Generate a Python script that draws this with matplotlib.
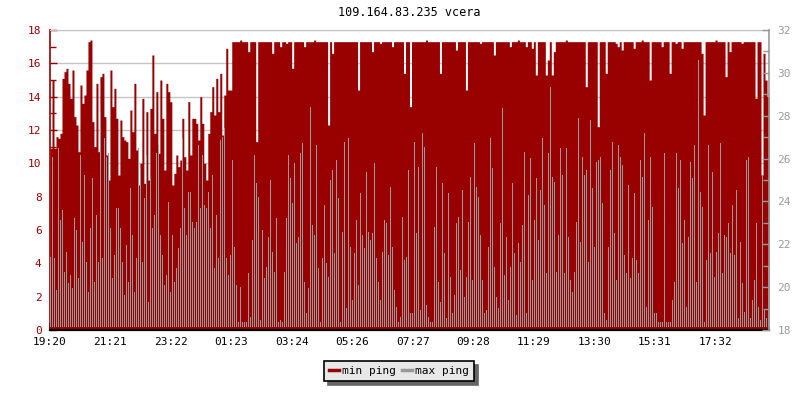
import numpy as np
import matplotlib
matplotlib.use("Agg")
import matplotlib.pyplot as plt
from matplotlib.ticker import MultipleLocator, FixedLocator
from matplotlib.lines import Line2D

title = "109.164.83.235 vcera"
series_names = ["min ping", "max ping"]
sample_minutes = 4          # one value every 4 minutes, 24 h in total
tick_every_minutes = 121.1
tick_labels = ["19:20", "21:21", "23:22", "01:23", "03:24", "05:26",
               "07:27", "09:28", "11:29", "13:30", "15:31", "17:32"]

min_ping = [
    10.9, 15.0, 10.9, 11.6, 11.5, 11.8, 15.1, 15.5, 15.7, 14.8,
    13.9, 15.6, 12.8, 12.3, 10.7, 14.7, 13.6, 14.1, 15.6, 17.3,
    17.4, 12.5, 11.0, 14.8, 10.7, 15.2, 15.4, 12.8, 10.5, 9.0,
    15.6, 13.4, 14.5, 12.7, 9.3, 12.6, 11.6, 11.4, 11.3, 10.3,
    13.2, 11.9, 14.8, 10.8, 8.7, 10.0, 13.9, 8.8, 13.1, 9.0,
    13.3, 16.5, 11.8, 14.3, 10.6, 15.0, 12.7, 9.6, 14.8, 14.3,
    13.7, 8.7, 9.4, 10.5, 9.8, 10.2, 12.7, 10.4, 9.6, 13.7,
    10.5, 12.7, 12.7, 12.4, 11.4, 14.0, 12.4, 10.0, 9.0, 11.8,
    13.1, 14.6, 12.9, 15.1, 13.1, 15.4, 11.7, 14.1, 16.9, 14.4,
    14.4,
    17.3, 17.3, 17.3, 17.3, 17.4, 17.3, 17.3, 17.3, 16.7,
    17.3, 17.3, 17.3, 11.3, 17.3, 17.3, 17.3, 17.3, 17.3, 17.3,
    17.3, 16.6, 17.3, 17.3, 17.3, 17.0, 17.3, 17.3, 17.2, 17.3,
    17.3, 15.7, 17.3, 17.3, 17.3, 17.3, 17.3, 17.0, 17.3, 17.3,
    17.3, 17.3, 17.4, 17.3, 17.3, 17.3, 17.3, 17.3, 17.3, 12.3,
    17.3, 16.6, 17.3, 17.3, 17.3, 17.3, 17.3, 17.3, 17.3, 17.3,
    17.3, 17.3, 17.3, 17.3, 14.4, 17.3, 17.3, 17.3, 17.3, 17.3,
    17.3, 16.7, 17.3, 17.3, 17.3, 17.2, 17.3, 17.3, 17.3, 17.3,
    17.3, 17.0, 17.3, 17.3, 17.3, 17.3, 17.3, 15.4, 17.3, 17.3,
    13.4, 17.3, 17.3, 17.3, 17.3, 17.3, 17.3, 17.3, 17.4, 17.3,
    17.3, 17.3, 17.3, 17.3, 17.3, 15.4, 17.3, 17.3, 17.3, 17.3,
    17.3, 17.3, 17.3, 16.8, 17.3, 17.3, 17.3, 17.3, 14.4, 17.3,
    17.3, 17.3, 17.3, 17.3, 17.3, 17.2, 17.3, 17.3, 17.3, 17.3,
    17.3, 17.3, 16.5, 17.3, 17.3, 17.3, 17.3, 17.3, 17.3, 17.3,
    17.0, 17.3, 17.3, 17.3, 17.4, 17.3, 17.3, 17.3, 17.0, 17.3,
    17.3, 16.9, 17.3, 15.3, 17.3, 17.3, 17.3, 17.3, 15.3, 16.2,
    17.3, 15.3, 16.7, 17.3, 17.3, 17.3, 17.3, 17.3, 17.4, 17.3,
    17.3, 17.3, 17.3, 17.3, 17.3, 17.3, 17.3, 17.3, 14.6, 17.3,
    17.3, 17.3, 17.3, 17.3, 12.2, 17.3, 17.3, 17.3, 15.4, 17.3,
    17.3, 17.3, 17.3, 17.2, 17.0, 17.3, 16.8, 17.3, 17.3, 17.3,
    17.3, 17.3, 16.9, 17.3, 17.3, 17.3, 17.4, 17.3, 17.3, 17.3,
    15.0, 17.3, 17.3, 17.3, 17.3, 17.3, 17.0, 17.3, 17.3, 17.3,
    15.4, 17.3, 17.3, 17.2, 17.3, 17.3, 16.9, 17.3, 17.3, 17.3,
    17.3, 17.3, 17.3, 17.3, 17.3, 17.3, 16.6, 12.9, 17.3, 17.3,
    17.3, 17.3, 17.3, 17.4, 17.3, 17.3, 17.3, 17.3, 15.2, 17.3,
    16.7, 17.3, 17.3, 17.3, 17.3, 17.3, 17.2, 17.3, 17.3, 17.3,
    17.3, 17.3, 17.3, 13.9, 17.3, 17.3, 9.3, 16.6, 15.0, 14.0,
]

max_ping = [
    4.4, 10.4, 4.3, 2.4, 10.9, 6.6, 7.2, 3.5, 4.7, 2.8,
    3.3, 2.5, 6.7, 6.0, 3.1, 10.5, 5.3, 9.3, 4.1, 2.3,
    6.1, 9.1, 2.9, 6.9, 4.1, 13.1, 4.3, 11.5, 10.4, 10.6,
    6.1, 3.1, 4.5, 7.3, 7.3, 6.1, 4.1, 2.1, 5.1, 2.9,
    8.5, 5.7, 2.3, 4.3, 10.9, 9.7, 4.1, 7.9, 10.5, 1.7,
    9.1, 6.1, 6.9, 10.6, 11.1, 5.7, 4.5, 2.7, 3.3, 7.7,
    2.3, 5.7, 2.9, 3.7, 4.9, 6.1, 11.5, 7.3, 5.7, 8.3,
    8.3, 6.5, 6.1, 6.5, 11.1, 7.3, 10.5, 7.5, 7.3, 8.3,
    6.1, 9.3, 3.7, 6.9, 4.3, 11.4, 11.6, 12.1, 4.3, 3.3,
    4.5,
    10.2, 5.0, 2.7, 0.5, 2.6, 0.5, 0.5, 0.5, 3.4,
    0.8, 5.4, 10.5, 8.8, 8.0, 0.6, 6.0, 3.1, 3.8, 5.6,
    9.0, 4.7, 3.5, 6.7, 0.5, 0.6, 0.5, 3.5, 6.7, 10.5,
    9.1, 7.6, 10.0, 5.2, 5.6, 10.6, 11.2, 2.9, 1.0, 2.5,
    13.4, 6.3, 5.7, 11.1, 3.7, 0.5, 4.3, 7.5, 4.0, 3.2,
    9.0, 9.6, 4.6, 10.2, 7.9, 0.5, 5.9, 11.3, 1.3, 11.5,
    5.0, 1.8, 4.6, 6.6, 2.7, 8.2, 5.7, 4.9, 9.5, 5.9,
    5.4, 5.8, 10.0, 4.3, 2.9, 1.8, 4.7, 6.6, 6.4, 4.5,
    8.6, 5.0, 2.4, 1.4, 0.5, 0.8, 6.8, 4.2, 4.4, 9.6,
    1.0, 1.0, 11.3, 5.8, 9.8, 1.2, 11.8, 11.0, 1.5, 0.8,
    0.5, 0.5, 6.2, 9.8, 2.9, 1.7, 8.8, 4.6, 0.7, 8.2,
    3.2, 1.0, 2.1, 6.4, 6.8, 3.6, 8.4, 2.0, 3.2, 6.5,
    9.2, 3.0, 11.2, 8.6, 8.0, 5.7, 3.0, 1.0, 1.2, 5.0,
    11.5, 9.7, 3.8, 2.0, 1.3, 6.4, 13.3, 3.3, 5.6, 1.8,
    3.8, 8.8, 4.6, 0.9, 5.2, 4.1, 6.3, 10.7, 1.0, 8.1,
    10.3, 3.0, 6.6, 9.1, 5.4, 8.4, 11.5, 7.5, 3.4, 10.6,
    14.6, 9.2, 8.9, 3.5, 5.7, 10.9, 9.3, 3.4, 10.9, 5.6,
    3.0, 2.3, 3.5, 6.5, 12.7, 5.3, 10.4, 9.3, 9.6, 4.1,
    12.6, 8.5, 5.0, 10.1, 10.2, 10.4, 7.6, 1.0, 0.6, 5.0,
    9.6, 11.3, 5.8, 3.0, 11.1, 10.4, 9.9, 4.5, 3.4, 8.7,
    3.1, 4.3, 8.2, 4.2, 3.4, 10.2, 9.2, 11.8, 1.4, 6.6,
    10.4, 7.4, 1.0, 1.0, 0.5, 0.5, 0.5, 10.6, 0.5, 0.5,
    0.5, 1.8, 2.9, 10.6, 8.5, 10.2, 5.2, 6.6, 1.4, 5.6,
    10.1, 9.1, 11.1, 2.9, 16.2, 8.3, 7.4, 0.5, 4.2, 11.1,
    4.6, 9.5, 3.2, 4.7, 5.8, 11.2, 3.4, 5.7, 5.6, 6.4,
    4.6, 7.5, 4.5, 8.4, 0.7, 5.3, 2.8, 1.1, 10.2, 10.4,
    0.7, 1.8, 3.0, 6.4, 1.4, 0.6, 9.3, 1.2, 0.7, 3.8,
]

RED = "#990000"
GREY = "#999999"
GRID = "#c4c4c4"
MONO = "DejaVu Sans Mono"

fig = plt.figure(figsize=(8, 4), dpi=100, facecolor="white")
ax = fig.add_axes([50 / 800, 70 / 400, 719 / 800, 300 / 400])

# min ping: filled step area
t_min = np.arange(len(min_ping) + 1) * sample_minutes
v_min = np.append(np.asarray(min_ping, float), min_ping[-1])
ax.fill_between(t_min, 0, v_min, step="post", color=RED, linewidth=0,
                antialiased=False, zorder=2)

# max ping: thin vertical spikes
t_max = np.arange(len(max_ping)) * sample_minutes
base = 0.2
ax.bar(t_max + sample_minutes * 0.25, np.asarray(max_ping) - base,
       width=sample_minutes * 0.5, bottom=base, align="edge", color=GREY,
       linewidth=0, antialiased=False, zorder=3)

total = len(min_ping) * sample_minutes
ax.set_xlim(0, total)
ax.set_ylim(0, 18)

# left axis
ax.yaxis.set_major_locator(MultipleLocator(2))
ax.yaxis.set_minor_locator(MultipleLocator(1))
for v in np.arange(2, 19, 2):
    ax.axhline(v, color=GRID, linewidth=1, zorder=1)
ax.tick_params(axis="y", which="both", direction="in", color=RED,
               labelcolor=RED, labelsize=8, pad=6)
ax.tick_params(axis="y", which="major", length=5, width=1)
ax.tick_params(axis="y", which="minor", length=4, width=1)
for lab in ax.get_yticklabels():
    lab.set_family(MONO)

# bottom axis
tick_pos = np.arange(len(tick_labels)) * tick_every_minutes
ax.xaxis.set_major_locator(FixedLocator(tick_pos))
ax.set_xticklabels(tick_labels, family=MONO, fontsize=8)
ax.tick_params(axis="x", direction="in", length=5, width=1.2,
               color="black", labelcolor="black", pad=5)

ax.spines["left"].set_color(RED)
ax.spines["left"].set_linewidth(1.2)
ax.spines["bottom"].set_color("black")
ax.spines["bottom"].set_linewidth(1.6)
ax.spines["top"].set_color(GRID)
ax.spines["right"].set_visible(False)

# right axis
ax2 = ax.twinx()
ax2.set_ylim(18, 32)
ax2.yaxis.set_major_locator(MultipleLocator(2))
ax2.yaxis.set_minor_locator(MultipleLocator(1))
ax2.tick_params(axis="y", which="both", direction="in", color=GREY,
                labelcolor=GREY, labelsize=8, pad=6)
ax2.tick_params(axis="y", which="major", length=5, width=1)
ax2.tick_params(axis="y", which="minor", length=4, width=1)
for lab in ax2.get_yticklabels():
    lab.set_family(MONO)
for s in ("left", "top", "bottom"):
    ax2.spines[s].set_visible(False)
ax2.spines["right"].set_color(GREY)
ax2.spines["right"].set_linewidth(1.2)

fig.text(409.5 / 800, 1 - 13 / 400, title, ha="center", va="center",
         fontsize=8.5, family=MONO, color="black")

handles = [Line2D([], [], color=RED, linewidth=2.5),
           Line2D([], [], color=GREY, linewidth=2.5)]
leg = fig.legend(handles, series_names, loc="center",
                 bbox_to_anchor=(399 / 800, 1 - 371 / 400), ncol=2,
                 frameon=True, fancybox=False, edgecolor="black",
                 facecolor="#e8e8e8", framealpha=1,
                 shadow={"ox": 3, "oy": -3, "color": "#666666", "alpha": 1},
                 prop={"family": MONO, "size": 8},
                 handlelength=0.9, handletextpad=0.3, columnspacing=0.5,
                 borderpad=0.45)
leg.get_frame().set_linewidth(1.2)

fig.savefig("out.png", dpi=100, facecolor="white")
